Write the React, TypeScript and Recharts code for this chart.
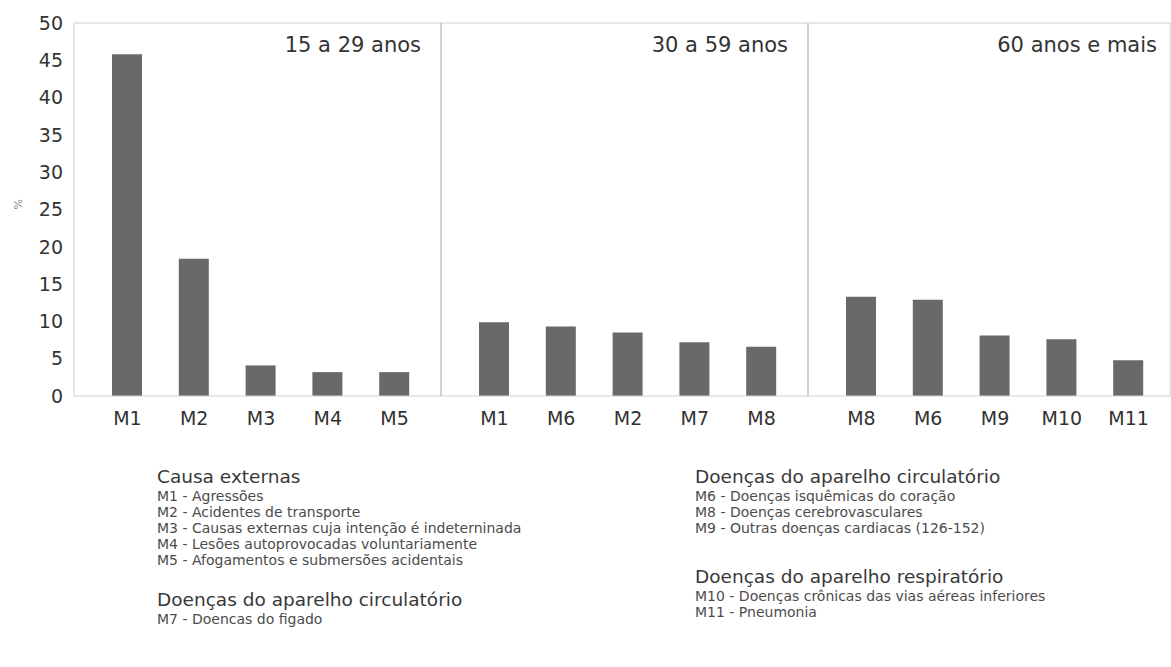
import React from 'react';
import { BarChart, Bar, XAxis, YAxis } from 'recharts';

// age groups
const panelTitles = ['15 a 29 anos', '30 a 59 anos', '60 anos e mais'];

const youngCodes = ['M1', 'M2', 'M3', 'M4', 'M5'];
const youngValues = [45.8, 18.4, 4.1, 3.2, 3.2];

const adultCodes = ['M1', 'M6', 'M2', 'M7', 'M8'];
const adultValues = [9.9, 9.3, 8.5, 7.2, 6.6];

const elderCodes = ['M8', 'M6', 'M9', 'M10', 'M11'];
const elderValues = [13.3, 12.9, 8.1, 7.6, 4.8];

const yTicks = [0, 5, 10, 15, 20, 25, 30, 35, 40, 45, 50];

const legendLeft = [
  { title: 'Causa externas', items: [
    'M1 - Agressões',
    'M2 - Acidentes de transporte',
    'M3 - Causas externas cuja intenção é indeterninada',
    'M4 - Lesões autoprovocadas voluntariamente',
    'M5 - Afogamentos e submersões acidentais',
  ] },
  { title: 'Doenças do aparelho circulatório', items: ['M7 - Doencas do figado'] },
];

const legendRight = [
  { title: 'Doenças do aparelho circulatório', items: [
    'M6 - Doenças isquêmicas do coração',
    'M8 - Doenças cerebrovasculares',
    'M9 - Outras doenças cardiacas (126-152)',
  ] },
  { title: 'Doenças do aparelho respiratório', items: [
    'M10 - Doenças crônicas das vias aéreas inferiores',
    'M11 - Pneumonia',
  ] },
];

const FONT = '"DejaVu Sans", Verdana, sans-serif';
const BAR = '#696969';
const LIGHT = '#d0d0d0';
const DIVIDER = '#a6a6a6';

const toRows = (codes: string[], values: number[]) =>
  codes.map((code, i) => ({ code, value: values[i] }));

interface PanelProps {
  codes: string[];
  values: number[];
  width: number;
  withYAxis?: boolean;
  rightLine: string;
  padRight: number;
}

const Panel: React.FC<PanelProps> = ({ codes, values, width, withYAxis, rightLine, padRight }) => (
  <BarChart
    width={width}
    height={440}
    data={toRows(codes, values)}
    margin={{ top: 22, right: 0, left: 0, bottom: 0 }}
    barSize={30}
  >
    <XAxis
      dataKey="code"
      interval={0}
      tickLine={false}
      tickSize={0}
      tickMargin={16}
      height={44}
      padding={{ left: 20, right: padRight }}
      axisLine={{ stroke: LIGHT }}
      tick={{ fill: '#333', fontSize: 19, fontFamily: FONT }}
    />
    <XAxis
      xAxisId="top"
      orientation="top"
      dataKey="code"
      tick={false}
      tickLine={false}
      height={1}
      axisLine={{ stroke: LIGHT }}
    />
    {withYAxis ? (
      <YAxis
        domain={[0, 50]}
        ticks={yTicks}
        interval={0}
        width={74}
        tickLine={false}
        tickSize={0}
        tickMargin={11}
        axisLine={{ stroke: LIGHT }}
        tick={{ fill: '#333', fontSize: 19, fontFamily: FONT }}
        label={{ value: '%', angle: -90, position: 'insideLeft', offset: 18, fill: '#888', fontSize: 11 }}
      />
    ) : (
      <YAxis domain={[0, 50]} hide />
    )}
    <YAxis
      yAxisId="r"
      orientation="right"
      domain={[0, 50]}
      width={1}
      tick={false}
      tickLine={false}
      axisLine={{ stroke: rightLine }}
    />
    <Bar dataKey="value" fill={BAR} isAnimationActive={false} />
  </BarChart>
);

const titleStyle = (right: number): React.CSSProperties => ({
  position: 'absolute',
  top: 35,
  right,
  fontSize: 21,
  lineHeight: '21px',
  color: '#333',
  whiteSpace: 'nowrap',
});

const LegendColumn: React.FC<{ groups: typeof legendLeft; left: number; gap: number }> = ({ groups, left, gap }) => (
  <div style={{ position: 'absolute', left, top: 466 }}>
    {groups.map((g, gi) => (
      <div key={gi} style={{ marginTop: gi === 0 ? 0 : gap }}>
        <div style={{ fontSize: 18.5, lineHeight: '22px', color: '#383838', whiteSpace: 'nowrap' }}>{g.title}</div>
        {g.items.map((it) => (
          <div key={it} style={{ fontSize: 14, lineHeight: '16px', color: '#4c4c4c', whiteSpace: 'nowrap' }}>{it}</div>
        ))}
      </div>
    ))}
  </div>
);

export default function App() {
  return (
    <div style={{ position: 'absolute', left: 0, top: 0, width: 1171, height: 667, background: '#fff', fontFamily: FONT, overflow: 'hidden' }}>
      <div style={{ position: 'absolute', left: 0, top: 0 }}>
        <Panel codes={youngCodes} values={youngValues} width={442} withYAxis rightLine={DIVIDER} padRight={13} />
      </div>
      <div style={{ position: 'absolute', left: 441, top: 0 }}>
        <Panel codes={adultCodes} values={adultValues} width={368} rightLine={DIVIDER} padRight={13} />
      </div>
      <div style={{ position: 'absolute', left: 808, top: 0 }}>
        <Panel codes={elderCodes} values={elderValues} width={363} rightLine={LIGHT} padRight={8} />
      </div>
      <div style={titleStyle(1171 - 421)}>{panelTitles[0]}</div>
      <div style={titleStyle(1171 - 788)}>{panelTitles[1]}</div>
      <div style={titleStyle(1171 - 1157)}>{panelTitles[2]}</div>
      <LegendColumn groups={legendLeft} left={157} gap={21} />
      <LegendColumn groups={legendRight} left={695} gap={30} />
    </div>
  );
}
